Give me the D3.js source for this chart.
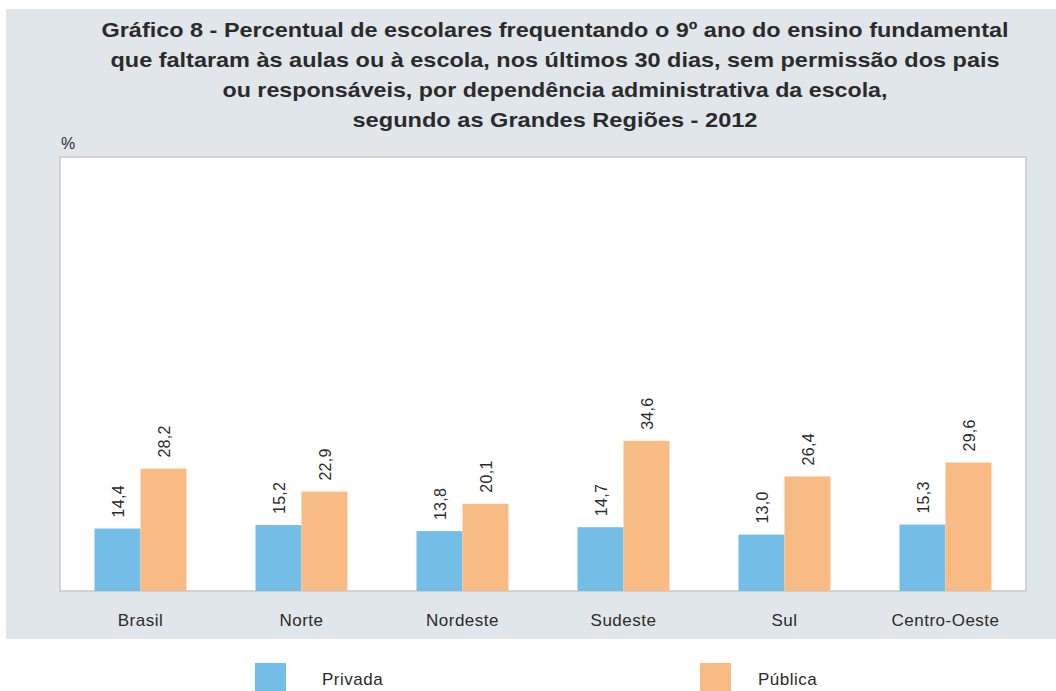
<!DOCTYPE html>
<html><head><meta charset="utf-8">
<script src="https://cdn.jsdelivr.net/npm/d3@7"></script>
<style>
html,body{margin:0;padding:0;background:#fff;}
svg{display:block;}
</style></head>
<body>
<script>
const categories = ["Brasil","Norte","Nordeste","Sudeste","Sul","Centro-Oeste"];
const privada = [14.4,15.2,13.8,14.7,13.0,15.3];
const publica = [28.2,22.9,20.1,34.6,26.4,29.6];
const seriesNames = ["Privada","Pública"];
const titleLines = [
  "Gráfico 8 - Percentual de escolares frequentando o 9º ano do ensino fundamental",
  "que faltaram às aulas ou à escola, nos últimos 30 dias, sem permissão dos pais",
  "ou responsáveis, por dependência administrativa da escola,",
  "segundo as Grandes Regiões - 2012"
];
const titleWidths = [907, 889, 665, 405];
const colors = ["#74bde7","#f9bb84"];

const W=1056,H=691;
const svg=d3.select("body").append("svg").attr("width",W).attr("height",H);
svg.append("rect").attr("x",6).attr("y",9).attr("width",W-6).attr("height",630).attr("fill","#e1e6ea");

const font="'Liberation Sans', Arial, sans-serif";
const tc="#2b2b2b";
svg.append("g").selectAll("text").data(titleLines).join("text")
  .attr("x",555).attr("y",(d,i)=>37+i*30).attr("text-anchor","middle")
  .attr("font-family",font).attr("font-weight","bold").attr("font-size",21)
  .attr("textLength",(d,i)=>titleWidths[i]).attr("lengthAdjust","spacingAndGlyphs")
  .attr("fill",tc).text(d=>d);

svg.append("text").attr("x",61).attr("y",149).attr("font-family",font)
  .attr("font-size",16).attr("fill",tc).text("%");

const L=60,R=1026,T=157,B=591;
svg.append("rect").attr("x",L).attr("y",T).attr("width",R-L).attr("height",B-T)
  .attr("fill","#fff").attr("stroke","#c6c9cc").attr("stroke-width",1.5);

const x=d3.scaleBand().domain(categories).range([L,R]).padding(0);
const y=d3.scaleLinear().domain([0,100]).range([B,T]);
const bw=46;

const series=[privada,publica];
series.forEach((vals,s)=>{
  const g=svg.append("g");
  g.selectAll("rect").data(categories).join("rect")
    .attr("x",(c)=>x(c)+x.bandwidth()/2-bw+s*bw)
    .attr("width",bw)
    .attr("y",(c,i)=>y(vals[i]))
    .attr("height",(c,i)=>y(0)-y(vals[i]))
    .attr("fill",colors[s]);
  g.selectAll("text").data(categories).join("text")
    .attr("transform",(c,i)=>{
      const cx=x(c)+x.bandwidth()/2-bw/2+s*bw;
      const cy=y(vals[i])-11;
      return `translate(${cx+6},${cy}) rotate(-90)`;
    })
    .attr("font-family",font).attr("font-size",16).attr("fill",tc)
    .attr("letter-spacing",0.3)
    .text((c,i)=>d3.format(".1f")(vals[i]).replace(".",","));
});

const xAxis=svg.append("g").attr("transform",`translate(0,${B})`)
  .call(d3.axisBottom(x).tickSize(0).tickPadding(23));
xAxis.select(".domain").remove();
xAxis.selectAll("text").attr("font-family",font).attr("font-size",17)
  .attr("letter-spacing",0.5).attr("fill",tc);

const leg=[{x:255,tx:322},{x:700,tx:758}];
leg.forEach((l,i)=>{
  svg.append("rect").attr("x",l.x).attr("y",663).attr("width",31).attr("height",31).attr("fill",colors[i]);
  svg.append("text").attr("x",l.tx).attr("y",685).attr("font-family",font)
    .attr("font-size",17).attr("letter-spacing",0.5).attr("fill",tc).text(seriesNames[i]);
});
</script>
</body></html>
